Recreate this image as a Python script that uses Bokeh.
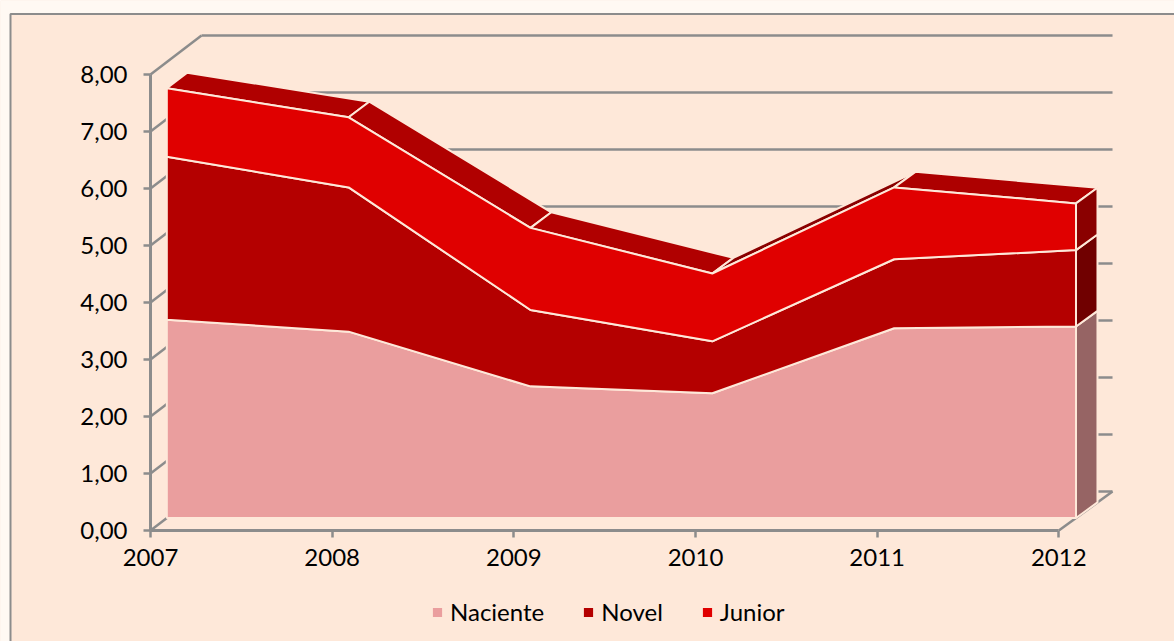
from bokeh.plotting import figure
from bokeh.models import Range1d, FixedTicker, Legend, LegendItem
from bokeh.embed import file_html
from bokeh.resources import INLINE

# ---- data ----
years = ["2007", "2008", "2009", "2010", "2011", "2012"]
naciente = [3.48, 3.27, 2.31, 2.19, 3.33, 3.36]
novel = [2.86, 2.53, 1.34, 0.91, 1.21, 1.34]
junior = [1.20, 1.23, 1.44, 1.19, 1.26, 0.82]
y_ticks = [0, 1, 2, 3, 4, 5, 6, 7, 8]
y_labels = ["0,00", "1,00", "2,00", "3,00", "4,00", "5,00", "6,00", "7,00", "8,00"]

# ---- styles ----
FONT = "Lato"
INNER = "#FEE8D9"
OUTER = "#FFF9F3"
AXIS = "#8C8C8C"
EDGE = "#FEE8D9"
C_NAC, C_NOV, C_JUN = "#EA9E9E", "#B40000", "#E00000"
SIDE_NAC, SIDE_NOV, SIDE_JUN = "#966464", "#700000", "#8A0000"
TOP_COLORS = ["#B00000", "#B00000", "#B00000", "#8A0000", "#AD0000"]

# ---- scales: pixels per data unit, origin location on the page ----
PX_X, PX_Y = 181.66, 57.0
ORG_X, ORG_Y = 150.0, 530.0
W, H = 1174, 641
# depth projection (wall at depth 1)
DX = 51.0 / PX_X
DY = 39.0 / PX_Y
STRETCH = 0.003
D_FRONT, D_BACK = 0.32, 0.72


def px(i, d):
    return i * (1 + STRETCH * d) + d * DX


def py(v, d):
    return v + d * DY


p = figure(
    width=W, height=H, output_backend="svg", toolbar_location=None,
    x_range=Range1d((0 - ORG_X) / PX_X, (W - ORG_X) / PX_X),
    y_range=Range1d((ORG_Y - H) / PX_Y, ORG_Y / PX_Y),
    min_border=0, min_border_left=0, min_border_right=0, min_border_top=0, min_border_bottom=0,
    background_fill_color=INNER, border_fill_color=INNER, outline_line_color=None,
)

# page strip and panel frame
fx0 = (10 - ORG_X) / PX_X
fy1 = (ORG_Y - 13.5) / PX_Y
xl, xr = p.x_range.start, p.x_range.end
yb, yt = p.y_range.start, p.y_range.end
p.quad(left=[xl], right=[fx0], bottom=[yb], top=[yt], fill_color=OUTER, line_color=None)
p.quad(left=[xl], right=[xr], bottom=[fy1], top=[yt], fill_color=OUTER, line_color=None)
p.line(x=[fx0, fx0, xr], y=[yb, fy1, fy1], line_color=AXIS, line_width=2)

# walls: back-wall gridlines, left-wall lines, floor edge
n = len(years) - 1
p.segment(x0=[px(0, 1)] * len(y_ticks), y0=[py(v, 1) for v in y_ticks],
          x1=[px(n, 1)] * len(y_ticks), y1=[py(v, 1) for v in y_ticks],
          line_color=AXIS, line_width=2.5)
p.segment(x0=[px(0, 0)] * len(y_ticks), y0=[py(v, 0) for v in y_ticks],
          x1=[px(0, 1)] * len(y_ticks), y1=[py(v, 1) for v in y_ticks],
          line_color=AXIS, line_width=2.5)
p.segment(x0=[px(n, 0)], y0=[py(0, 0)], x1=[px(n, 1)], y1=[py(0, 1)],
          line_color=AXIS, line_width=2.5)

# stacking
c1 = list(naciente)
c2 = [a + b for a, b in zip(c1, novel)]
c3 = [a + b for a, b in zip(c2, junior)]
zero = [0.0] * len(years)
idx = list(range(len(years)))

# top surface of the stack, one face per segment
for i in range(n):
    xs = [px(i, D_FRONT), px(i + 1, D_FRONT), px(i + 1, D_BACK), px(i, D_BACK)]
    ys = [py(c3[i], D_FRONT), py(c3[i + 1], D_FRONT), py(c3[i + 1], D_BACK), py(c3[i], D_BACK)]
    p.patch(xs, ys, fill_color=TOP_COLORS[i], line_color=EDGE, line_width=2)

# right side faces
for lo, hi, col in [(zero, c1, SIDE_NAC), (c1, c2, SIDE_NOV), (c2, c3, SIDE_JUN)]:
    xs = [px(n, D_FRONT), px(n, D_BACK), px(n, D_BACK), px(n, D_FRONT)]
    ys = [py(lo[n], D_FRONT), py(lo[n], D_BACK), py(hi[n], D_BACK), py(hi[n], D_FRONT)]
    p.patch(xs, ys, fill_color=col, line_color=EDGE, line_width=2)

# front faces
renderers = []
for lo, hi, col in [(zero, c1, C_NAC), (c1, c2, C_NOV), (c2, c3, C_JUN)]:
    xs = [px(i, D_FRONT) for i in idx] + [px(i, D_FRONT) for i in reversed(idx)]
    ys = [py(v, D_FRONT) for v in hi] + [py(v, D_FRONT) for v in reversed(lo)]
    renderers.append(p.patch(xs, ys, fill_color=col, line_color=EDGE, line_width=2))

# axes
p.grid.visible = False
xa = p.xaxis[0]
xa.fixed_location = 0
xa.bounds = (0, n)
xa.ticker = FixedTicker(ticks=idx)
xa.major_label_overrides = dict(zip(idx, years))
ya = p.yaxis[0]
ya.fixed_location = 0
ya.bounds = (0, 8)
ya.ticker = FixedTicker(ticks=y_ticks)
ya.major_label_overrides = dict(zip(y_ticks, y_labels))
for a in (xa, ya):
    a.axis_line_color = AXIS
    a.axis_line_width = 3
    a.major_tick_line_color = AXIS
    a.major_tick_line_width = 2.5
    a.major_tick_in = 0
    a.major_tick_out = 7
    a.minor_tick_line_color = None
    a.major_label_text_font = FONT
    a.major_label_text_font_size = "24px"
    a.major_label_text_color = "#000000"
xa.major_label_standoff = 11
ya.major_label_standoff = 16

# legend
legend = Legend(
    items=[LegendItem(label="Naciente", renderers=[renderers[0]]),
           LegendItem(label="Novel", renderers=[renderers[1]]),
           LegendItem(label="Junior", renderers=[renderers[2]])],
    orientation="horizontal", location=(430, 15),
    background_fill_alpha=0, border_line_color=None,
    glyph_width=14, glyph_height=14, label_standoff=6, spacing=37,
    label_text_font=FONT, label_text_font_size="24px", label_text_color="#000000",
    margin=0, padding=0,
)
p.add_layout(legend, "center")

open("out.html", "w").write(file_html(p, INLINE))
